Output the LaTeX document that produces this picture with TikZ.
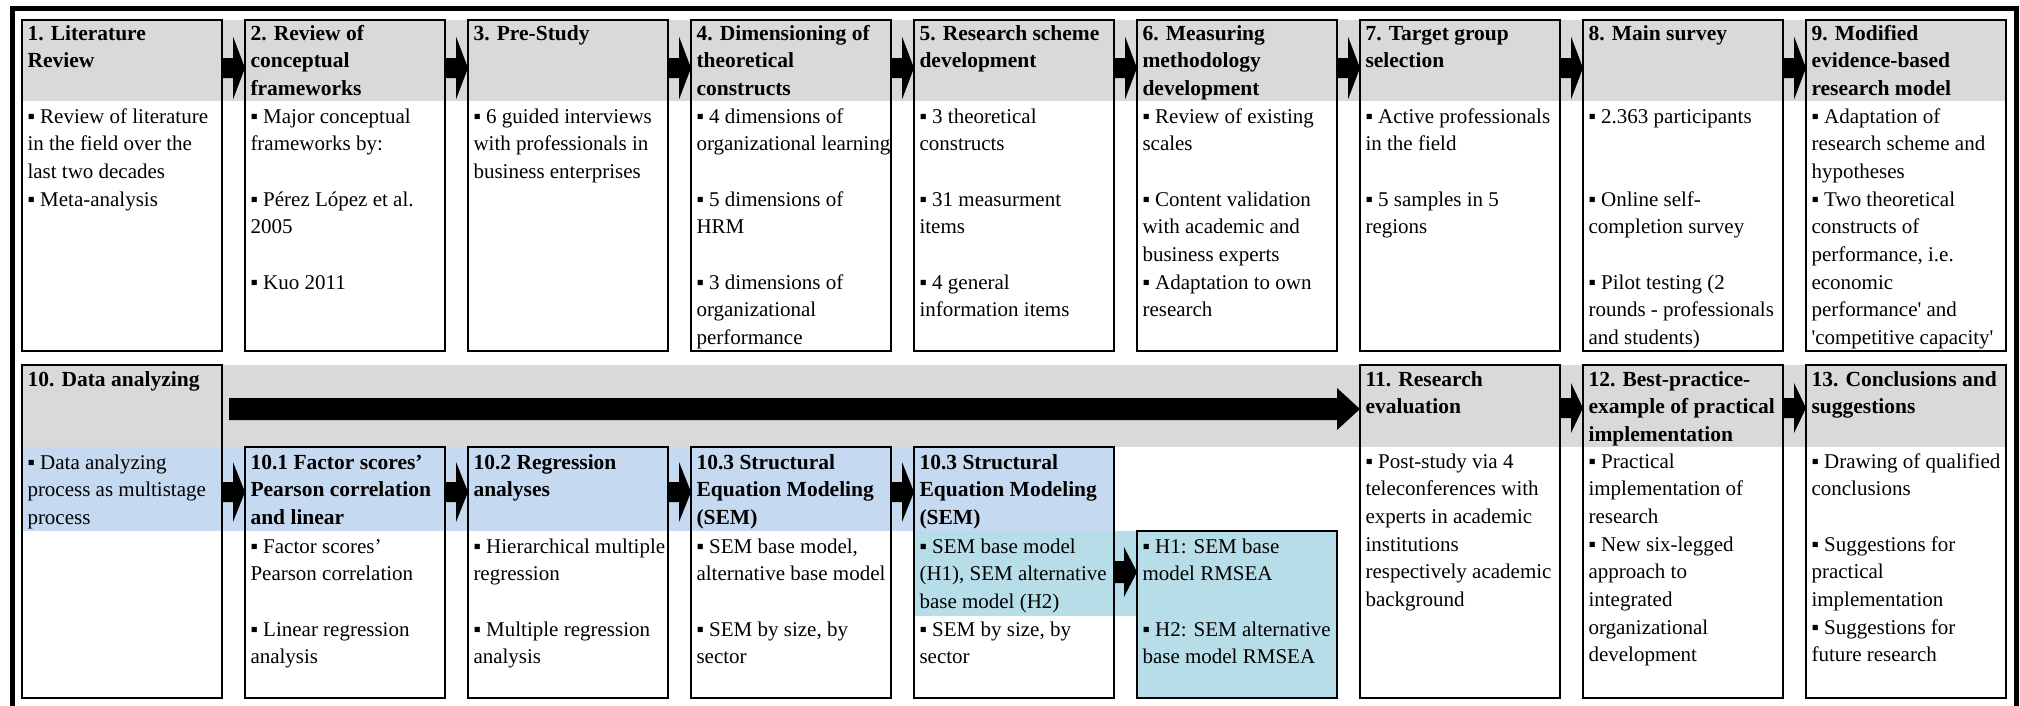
\documentclass[tikz,border=0pt]{standalone}
\usepackage{fontspec}
\setmainfont{Liberation Serif}[Ligatures=TeXOff]
\usetikzlibrary{calc}
\definecolor{hdrgray}{HTML}{D9D9D9}
\definecolor{bandblue}{HTML}{C5D9F1}
\definecolor{bandteal}{HTML}{B7DEE8}
\newcommand{\fl}{\rule{0pt}{20pt}}
% from, to, y-centre, shaft half, head half, head length, start offset
\newcommand{\blockarrow}[7]{%
  \fill let \p1=(#1.east), \p2=(#2.west) in
  (\x1+#7pt,-#3pt+#4pt) -- (\x2-#6pt,-#3pt+#4pt) -- (\x2-#6pt,-#3pt+#5pt) --
  (\x2,-#3pt) -- (\x2-#6pt,-#3pt-#5pt) -- (\x2-#6pt,-#3pt-#4pt) --
  (\x1+#7pt,-#3pt-#4pt) -- cycle;}
\tikzset{
  box/.style={draw, line width=2.5pt, inner sep=0pt, outer sep=0pt, anchor=north west, minimum width=200pt},
  txt/.style={anchor=north west, inner sep=0pt, outer sep=0pt, align=left,
    font=\fontsize{21}{27.7}\selectfont},
  hdr/.style={txt, font=\bfseries\fontsize{21.5}{27.5}\selectfont}
}
\begin{document}
\begin{tikzpicture}[x=1pt,y=-1pt]
\useasboundingbox (0,0) rectangle (2020,705);
% background bands
\fill[hdrgray] (22,20) rectangle (2006,101);
\fill[hdrgray] (22,365) rectangle (2006,447);
\fill[bandblue] (22,447) rectangle (1114,531);
\fill[bandteal] (914,531) rectangle (1137,616);
\fill[bandteal] (1137,531) rectangle (1337,698);
% row 1 boxes
\node[box, minimum height=331pt] (b1) at (22,20) {};
\node[box, minimum height=331pt] (b2) at (245,20) {};
\node[box, minimum height=331pt] (b3) at (468,20) {};
\node[box, minimum height=331pt] (b4) at (691,20) {};
\node[box, minimum height=331pt] (b5) at (914,20) {};
\node[box, minimum height=331pt] (b6) at (1137,20) {};
\node[box, minimum height=331pt] (b7) at (1360,20) {};
\node[box, minimum height=331pt] (b8) at (1583,20) {};
\node[box, minimum height=331pt] (b9) at (1806,20) {};
% row 2 boxes
\node[box, minimum height=333pt] (b10) at (22,365) {};
\node[box, minimum height=251pt] (b101) at (245,447) {};
\node[box, minimum height=251pt] (b102) at (468,447) {};
\node[box, minimum height=251pt] (b103) at (691,447) {};
\node[box, minimum height=251pt] (b103b) at (914,447) {};
\node[box, minimum height=167pt] (bH) at (1137,531) {};
\node[box, minimum height=333pt] (b11) at (1360,365) {};
\node[box, minimum height=333pt] (b12) at (1583,365) {};
\node[box, minimum height=333pt] (b13) at (1806,365) {};
% arrows row 1
\blockarrow{b1}{b2}{68}{10}{31.5}{12}{0}
\blockarrow{b2}{b3}{68}{10}{31.5}{12}{0}
\blockarrow{b3}{b4}{68}{10}{31.5}{12}{0}
\blockarrow{b4}{b5}{68}{10}{31.5}{12}{0}
\blockarrow{b5}{b6}{68}{10}{31.5}{12}{0}
\blockarrow{b6}{b7}{68}{10}{31.5}{12}{0}
\blockarrow{b7}{b8}{68}{10}{31.5}{12}{0}
\blockarrow{b8}{b9}{68}{10}{31.5}{12}{0}
% arrows row 2
\blockarrow{b10}{b11}{409}{11}{21}{23}{7}
\blockarrow{b10}{b101}{492}{10}{30}{12}{0}
\blockarrow{b101}{b102}{492}{10}{30}{12}{0}
\blockarrow{b102}{b103}{492}{10}{30}{12}{0}
\blockarrow{b103}{b103b}{492}{10}{30}{12}{0}
\blockarrow{b103b}{bH}{572}{11}{25}{13}{0}
\blockarrow{b11}{b12}{408}{10}{25}{12}{0}
\blockarrow{b12}{b13}{408}{10}{25}{12}{0}
% row 1 texts
\node[hdr] (h1) at (27.5,20) {\fl 1. Literature\\Review};
\node[txt] (d1) at (27.5,103) {\fl ▪ Review of literature\\in the field over the\\last two decades\\▪ Meta-analysis};
\node[hdr] (h2) at (250.5,20) {\fl 2. Review of\\conceptual\\frameworks};
\node[txt] (d2) at (250.5,103) {\fl ▪ Major conceptual\\frameworks by:\\~\\▪ Pérez López et al.\\2005\\~\\▪ Kuo 2011};
\node[hdr] (h3) at (473.5,20) {\fl 3. Pre-Study};
\node[txt] (d3) at (473.5,103) {\fl ▪ 6 guided interviews\\with professionals in\\business enterprises};
\node[hdr] (h4) at (696.5,20) {\fl 4. Dimensioning of\\theoretical\\constructs};
\node[txt] (d4) at (696.5,103) {\fl ▪ 4 dimensions of\\organizational learning\\~\\▪ 5 dimensions of\\HRM\\~\\▪ 3 dimensions of\\organizational\\performance};
\node[hdr] (h5) at (919.5,20) {\fl 5. Research scheme\\development};
\node[txt] (d5) at (919.5,103) {\fl ▪ 3 theoretical\\constructs\\~\\▪ 31 measurment\\items\\~\\▪ 4 general\\information items};
\node[hdr] (h6) at (1142.5,20) {\fl 6. Measuring\\methodology\\development};
\node[txt] (d6) at (1142.5,103) {\fl ▪ Review of existing\\scales\\~\\▪ Content validation\\with academic and\\business experts\\▪ Adaptation to own\\research};
\node[hdr] (h7) at (1365.5,20) {\fl 7. Target group\\selection};
\node[txt] (d7) at (1365.5,103) {\fl ▪ Active professionals\\in the field\\~\\▪ 5 samples in 5\\regions};
\node[hdr] (h8) at (1588.5,20) {\fl 8. Main survey};
\node[txt] (d8) at (1588.5,103) {\fl ▪ 2.363 participants\\~\\~\\▪ Online self-\\completion survey\\~\\▪ Pilot testing (2\\rounds - professionals\\and students)};
\node[hdr] (h9) at (1811.5,20) {\fl 9. Modified\\evidence-based\\research model};
\node[txt] (d9) at (1811.5,103) {\fl ▪ Adaptation of\\research scheme and\\hypotheses\\▪ Two theoretical\\constructs of\\performance, i.e.\\economic\\performance' and\\'competitive capacity'};
% row 2 texts
\node[hdr] (h10) at (27.5,366) {\fl 10. Data analyzing};
\node[txt] (d10) at (27.5,449) {\fl ▪ Data analyzing\\process as multistage\\process};
\node[hdr] (h101) at (250.5,449) {\fl 10.1 Factor scores’\\Pearson correlation\\and linear};
\node[txt] (d101) at (250.5,533) {\fl ▪ Factor scores’\\Pearson correlation\\~\\▪ Linear regression\\analysis};
\node[hdr] (h102) at (473.5,449) {\fl 10.2 Regression\\analyses};
\node[txt] (d102) at (473.5,533) {\fl ▪ Hierarchical multiple\\regression\\~\\▪ Multiple regression\\analysis};
\node[hdr] (h103) at (696.5,449) {\fl 10.3 Structural\\Equation Modeling\\(SEM)};
\node[txt] (d103) at (696.5,533) {\fl ▪ SEM base model,\\alternative base model\\~\\▪ SEM by size, by\\sector};
\node[hdr] (h103b) at (919.5,449) {\fl 10.3 Structural\\Equation Modeling\\(SEM)};
\node[txt] (d103b) at (919.5,533) {\fl ▪ SEM base model\\(H1), SEM alternative\\base model (H2)\\▪ SEM by size, by\\sector};
\node[txt] (dH) at (1142.5,533) {\fl ▪ H1: SEM base\\model RMSEA\\~\\▪ H2: SEM alternative\\base model RMSEA};
\node[hdr] (h11) at (1365.5,366) {\fl 11. Research\\evaluation};
\node[txt] (d11) at (1365.5,448) {\fl ▪ Post-study via 4\\teleconferences with\\experts in academic\\institutions\\respectively academic\\background};
\node[hdr] (h12) at (1588.5,366) {\fl 12. Best-practice-\\example of practical\\implementation};
\node[txt] (d12) at (1588.5,448) {\fl ▪ Practical\\implementation of\\research\\▪ New six-legged\\approach to\\integrated\\organizational\\development};
\node[hdr] (h13) at (1811.5,366) {\fl 13. Conclusions and\\suggestions};
\node[txt] (d13) at (1811.5,448) {\fl ▪ Drawing of qualified\\conclusions\\~\\▪ Suggestions for\\practical\\implementation\\▪ Suggestions for\\future research};
% outer frame
\begin{scope}
\clip (0,0) rectangle (2020,705);
\draw[line width=5pt] (12.5,8) rectangle (2016.5,720);
\end{scope}
\end{tikzpicture}
\end{document}
